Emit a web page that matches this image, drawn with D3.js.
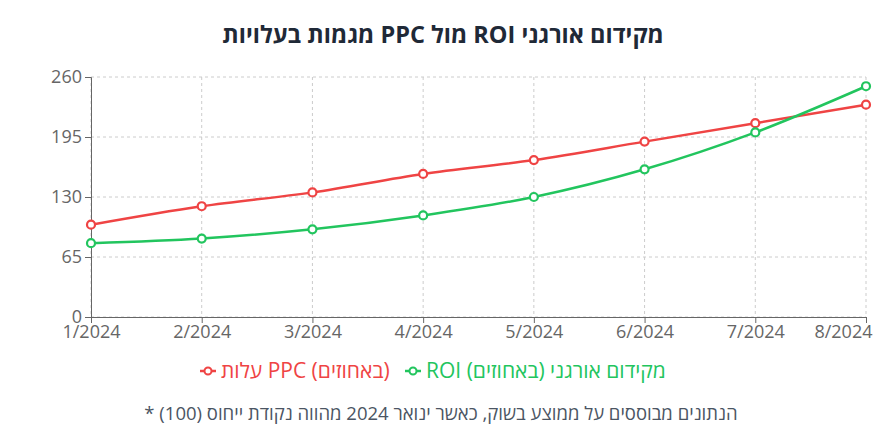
<!DOCTYPE html>
<html><head><meta charset="utf-8">
<script src="https://cdn.jsdelivr.net/npm/d3@7"></script>
<style>
body{margin:0;background:#fff;font-family:"Open Sans","DejaVu Sans",sans-serif;}
svg{display:block}
</style></head>
<body><svg id="c" width="893" height="440"></svg>
<script>
const months = ["1/2024","2/2024","3/2024","4/2024","5/2024","6/2024","7/2024","8/2024"];
const ppcCost = [100,120,135,155,170,190,210,230];
const organicRoi = [80,85,95,110,130,160,200,250];
const yTicks = [0,65,130,195,260];
const seriesNames = ["עלות PPC (באחוזים)","ROI מקידום אורגני (באחוזים)"];
const seriesColors = ["#ef4444","#22c55e"];
const titleText = "מגמות בעלויות PPC מול ROI מקידום אורגני";
const noteText = "* הנתונים מבוססים על ממוצע בשוק, כאשר ינואר 2024 מהווה נקודת ייחוס (100)";

const svg = d3.select("#c");
const m = {l:91, r:866, t:77, b:317};
const x = d3.scalePoint().domain(months).range([m.l, m.r]);
const y = d3.scaleLinear().domain([0,260]).range([m.b, m.t]);

// grid
const g = svg.append("g");
g.selectAll(".hg").data(yTicks).enter().append("line")
  .attr("x1",m.l).attr("x2",m.r).attr("y1",d=>y(d)).attr("y2",d=>y(d))
  .attr("stroke","#ccc").attr("stroke-dasharray","3 3");
g.selectAll(".vg").data(months).enter().append("line")
  .attr("x1",d=>x(d)).attr("x2",d=>x(d)).attr("y1",m.t).attr("y2",m.b)
  .attr("stroke","#ccc").attr("stroke-dasharray","3 3");

// axes
const xa = svg.append("g").attr("transform",`translate(0,${m.b})`)
  .call(d3.axisBottom(x).tickSize(6).tickPadding(2));
const ya = svg.append("g").attr("transform",`translate(${m.l},0)`)
  .call(d3.axisLeft(y).tickValues(yTicks).tickSize(6).tickPadding(3));
[xa,ya].forEach(a=>{
  a.selectAll("path,line").attr("stroke","#666");
  a.selectAll("text").attr("fill","#666").style("font-size","18px")
   .style("font-family",'"Open Sans","DejaVu Sans",sans-serif');
});
xa.selectAll(".tick").filter((d,i,n)=>i===n.length-1).select("text")
  .attr("text-anchor","end").attr("x",6);

// lines
const series = [ppcCost, organicRoi];
series.forEach((vals,i)=>{
  const pts = vals.map((v,j)=>[x(months[j]), y(v)]);
  svg.append("path").attr("d", d3.line().curve(d3.curveMonotoneX)(pts))
    .attr("fill","none").attr("stroke",seriesColors[i]).attr("stroke-width",2.5);
  svg.selectAll(null).data(pts).enter().append("circle")
    .attr("cx",d=>d[0]).attr("cy",d=>d[1]).attr("r",4)
    .attr("fill","#fff").attr("stroke",seriesColors[i]).attr("stroke-width",2.2);
});

// title
svg.append("text").attr("x",443).attr("y",43).attr("text-anchor","middle")
  .attr("fill","#1f2937").style("font-size","23.5px").style("font-weight","bold")
  .text(titleText);

// legend
const lg = svg.append("g");
const items = [{x:200},{x:405}];
seriesNames.forEach((n,i)=>{
  const it = lg.append("g").attr("transform",`translate(${items[i].x},371)`);
  it.append("line").attr("x1",0).attr("x2",16).attr("stroke",seriesColors[i]).attr("stroke-width",2.5);
  it.append("circle").attr("cx",8).attr("r",3.5).attr("fill","#fff").attr("stroke",seriesColors[i]).attr("stroke-width",2);
  it.append("text").attr("x",21).attr("y",6.5).attr("fill",seriesColors[i])
    .style("font-size","21px").text(n);
});

// footnote
svg.append("text").attr("x",441).attr("y",420).attr("text-anchor","middle")
  .attr("fill","#4b5563").style("font-size","18.5px").text(noteText);
</script></body></html>
